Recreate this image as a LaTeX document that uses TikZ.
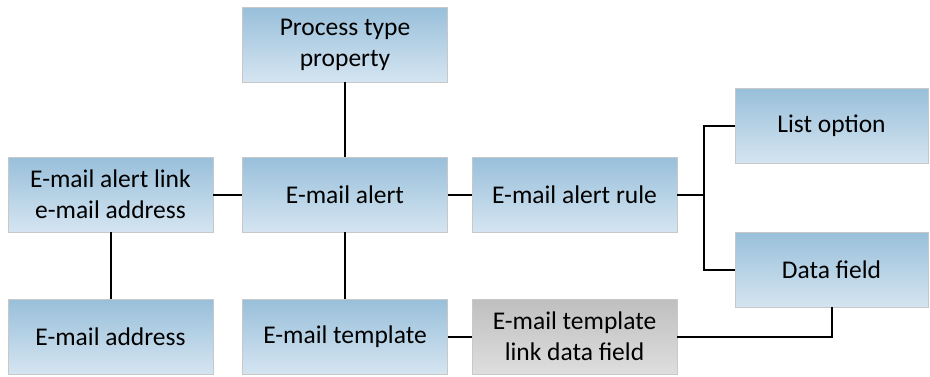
\documentclass[tikz,border=0pt]{standalone}
\usepackage{fontspec}
\setmainfont{Carlito}
\begin{document}
\begin{tikzpicture}[x=1pt,y=-1pt,
  box/.style={rectangle, draw=boxedge, line width=0.8pt, inner sep=0pt,
    minimum width=205pt, minimum height=75pt, align=center,
    top color=bluetop, bottom color=bluebottom,
    font=\fontsize{25.5}{31}\selectfont},
  narrowbox/.style={box, minimum width=193pt},
  greybox/.style={box, top color=greytop, bottom color=greybottom},
  link/.style={draw=black, line width=2pt}]
\definecolor{bluetop}{RGB}{152,191,218}
\definecolor{bluebottom}{RGB}{213,229,241}
\definecolor{greytop}{RGB}{191,191,191}
\definecolor{greybottom}{RGB}{222,222,222}
\definecolor{boxedge}{RGB}{200,200,200}
\useasboundingbox (0,0) rectangle (930,376);

% nodes
\node[box] (ptp) at (345,44.5) {Process type\\property};
\node[box] (lnk) at (110.5,194.5) {E-mail alert link\\e-mail address};
\node[box] (alert) at (345,194.5) {E-mail alert};
\node[box] (rule) at (574.5,194.5) {E-mail alert rule};
\node[narrowbox] (list) at (831.5,126) {List option};
\node[narrowbox] (data) at (831.5,269.5) {Data field};
\node[box] (addr) at (110.5,336.5) {E-mail address};
\node[box] (tmpl) at (345,336.5) {E-mail template};
\node[greybox] (tlink) at (574.5,336.5) {E-mail template\\link data field};
\coordinate (fork) at (704,194.5);

% connectors
\draw[link] (ptp.south) -- (alert.north);
\draw[link] (lnk.east) -- (alert.west);
\draw[link] (alert.east) -- (rule.west);
\draw[link] (rule.east) -- (fork);
\draw[link] (list.west) -| (fork);
\draw[link] (data.west) -| (fork);
\draw[link] (lnk.south) -- (addr.north);
\draw[link] (alert.south) -- (tmpl.north);
\draw[link] (tmpl.east) -- (tlink.west);
\draw[link] (data.south) |- (tlink.east);
\end{tikzpicture}
\end{document}
